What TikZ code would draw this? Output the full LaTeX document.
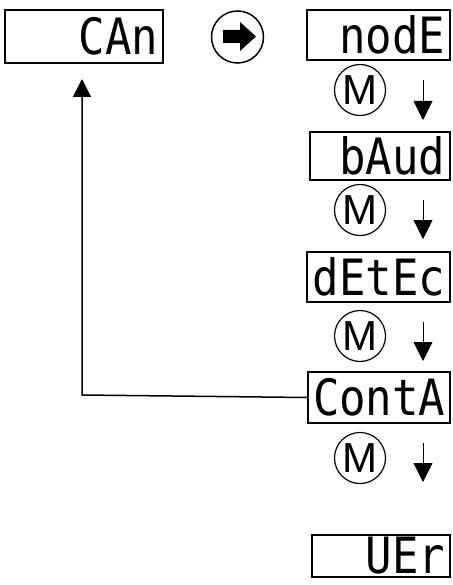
\documentclass[tikz,border=0pt]{standalone}
\usepackage{fontspec}
\setmainfont{Liberation Sans}
\newfontfamily\lcdfont[FakeStretch=0.88]{DejaVu Sans Mono}
\usetikzlibrary{arrows.meta}
\tikzset{
  lcdbox/.style={draw, line width=1.5pt, minimum height=50pt, inner sep=0pt, inner xsep=5pt,
    align=right, font=\lcdfont\fontsize{50}{50}\selectfont},
  mkey/.style={draw, circle, line width=1.2pt, minimum size=51pt, inner sep=0pt,
    font=\fontsize{42}{42}\selectfont},
  downarr/.style={line width=0.8pt, -{Triangle[width=19pt,length=19pt]}},
  backarr/.style={line width=1.5pt, -{Triangle[width=18pt,length=18pt]}}
}
\begin{document}
\begin{tikzpicture}[x=1pt,y=-1pt]
\useasboundingbox (0,0) rectangle (452,585);
% top left display
\node[lcdbox, text width=148pt, minimum height=53pt] (can) at (84,36.5) {CAn};
% go-arrow in circle
\node[draw, circle, line width=1.5pt, minimum size=52pt] (go) at (237.5,37) {};
\fill (223,30) -- (240,30) -- (240,22) -- (256,36.5) -- (240,51) -- (240,43) -- (223,43) -- cycle;
% right column
\node[lcdbox, text width=133pt] (node) at (378.5,35) {nodE};
\node[mkey] (m1) at (360,90) {M};
\coordinate (a1s) at (423,80); \coordinate (a1e) at (423,120);
\draw[downarr] (a1s) -- (a1e);

\node[lcdbox, text width=130pt, minimum height=48pt] (baud) at (380,156) {bAud};
\node[mkey] (m2) at (360,210) {M};
\coordinate (a2s) at (423,200); \coordinate (a2e) at (423,239);
\draw[downarr] (a2s) -- (a2e);

\node[lcdbox, text width=133pt] (detec) at (378.5,277) {dEtEc};
\node[mkey] (m3) at (360,336) {M};
\coordinate (a3s) at (423,322); \coordinate (a3e) at (423,361);
\draw[downarr] (a3s) -- (a3e);

\node[lcdbox, text width=132pt, minimum height=51pt] (conta) at (379,397.5) {ContA};
\node[mkey] (m4) at (360,458) {M};
\coordinate (a4s) at (423,443); \coordinate (a4e) at (423,482);
\draw[downarr] (a4s) -- (a4e);

\node[lcdbox, text width=128pt, minimum height=42pt] (ver) at (381,556) {UEr};

% return connector
\coordinate (corner) at (82,395);
\coordinate (tip) at (82,79);
\draw[backarr] (conta.west) -- (corner) -- (tip);
\end{tikzpicture}
\end{document}
